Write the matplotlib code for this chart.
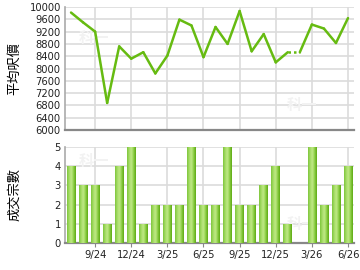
import numpy as np
import matplotlib
matplotlib.use("Agg")
import matplotlib.pyplot as plt
from matplotlib.colors import LinearSegmentedColormap

plt.rcParams['font.family'] = ['DejaVu Sans', 'Noto Sans CJK TC']

months = ["7/24", "8/24", "9/24", "10/24", "11/24", "12/24", "1/25", "2/25", "3/25",
          "4/25", "5/25", "6/25", "7/25", "8/25", "9/25", "10/25", "11/25", "12/25",
          "1/26", "2/26", "3/26", "4/26", "5/26", "6/26"]
avg_price = [9820, 9500, 9200, 6880, 8720, 8320, 8530, 7840, 8420,
             9590, 9400, 8370, 9350, 8800, 9870, 8560, 9120, 8200,
             8530, 8530, 9430, 9300, 8830, 9640]
estimated = [False] * 19 + [True] + [False] * 4   # 2/26 carried forward (dotted)
deals = [4, 3, 3, 1, 4, 5, 1, 2, 2, 2, 5, 2, 2, 5, 2, 2, 3, 4, 1, 0, 5, 2, 3, 4]
tick_labels = ["9/24", "12/24", "3/25", "6/25", "9/25", "12/25", "3/26", "6/26"]
price_ticks = list(range(6000, 10001, 400))
deal_ticks = [0, 1, 2, 3, 4, 5]

x = np.arange(len(months))
tick_pos = [months.index(m) for m in tick_labels]

fig = plt.figure(figsize=(3.6, 2.7), dpi=100)
ax1 = fig.add_axes([0.1806, 0.5185, 0.8028, 0.4555])
ax2 = fig.add_axes([0.1806, 0.100, 0.8028, 0.3556])

grid_c = "#dcdcdc"
line_c = "#66bb11"

for ax in (ax1, ax2):
    ax.set_xlim(-0.5, len(months) - 0.5)
    ax.set_xticks(tick_pos)
    ax.grid(True, color=grid_c, linewidth=1.2)
    ax.set_axisbelow(True)
    for s in ("top", "right"):
        ax.spines[s].set_visible(False)
    ax.spines["left"].set_color("#aaaaaa")
    ax.spines["left"].set_linewidth(1.2)
    ax.spines["bottom"].set_color("#888888")
    ax.spines["bottom"].set_linewidth(1.6)
    ax.tick_params(axis="y", length=0, labelsize=7.2, pad=3, colors="#222222")
    ax.tick_params(axis="x", length=3, color="#888888", labelsize=7.2, colors="#222222", pad=2)

# top: line chart
ax1.set_ylim(6000, 10000)
ax1.set_yticks(price_ticks)
ax1.set_xticklabels([])
ax1.tick_params(axis="x", length=0)
for i in range(len(x) - 1):
    ls = (0, (1, 1.2)) if estimated[i + 1] else "-"
    ax1.plot(x[i:i + 2], avg_price[i:i + 2], color=line_c, linewidth=1.8,
             linestyle=ls, solid_capstyle="round", solid_joinstyle="round")
ax1.set_ylabel("平均呎價", family=['Noto Sans CJK TC', 'DejaVu Sans'], fontsize=9.5)

# bottom: gradient bars
ax2.set_ylim(0, 5)
ax2.set_yticks(deal_ticks)
ax2.set_xticks(tick_pos)
ax2.set_xticklabels(tick_labels)
cmap = LinearSegmentedColormap.from_list(
    "bar", ["#7cc53a", "#a6dc66", "#c2ea88", "#8ccf45", "#5ca812"])
grad = np.linspace(0, 1, 64).reshape(1, -1)
bw = 0.72
bars = ax2.bar(x, deals, width=bw, color="#8ccf45", edgecolor="none", zorder=2)
for b, v in zip(bars, deals):
    if v <= 0:
        continue
    x0 = b.get_x()
    im = ax2.imshow(grad, cmap=cmap, aspect="auto", extent=(x0, x0 + bw, 0, v),
                    zorder=3, interpolation="bicubic")
    im.set_clip_path(b)
ax2.set_xlim(-0.5, len(months) - 0.5)
ax2.set_ylim(0, 5)
ax2.set_ylabel("成交宗數", family=['Noto Sans CJK TC', 'DejaVu Sans'], fontsize=9.5)

# very faint watermarks
for ax, pos in ((ax1, [(0.10, 0.75), (0.82, 0.2)]),
                (ax2, [(0.10, 0.85), (0.82, 0.2)])):
    for px, py in pos:
        ax.text(px, py, "科一", transform=ax.transAxes, fontsize=11, color="#f2f2f2",
                family=['Noto Sans CJK TC'], fontweight="bold",
                ha="center", va="center", zorder=1)

ax1.yaxis.set_label_coords(-0.15, 0.5)
ax2.yaxis.set_label_coords(-0.15, 0.5)

fig.savefig("out.png", dpi=100)
